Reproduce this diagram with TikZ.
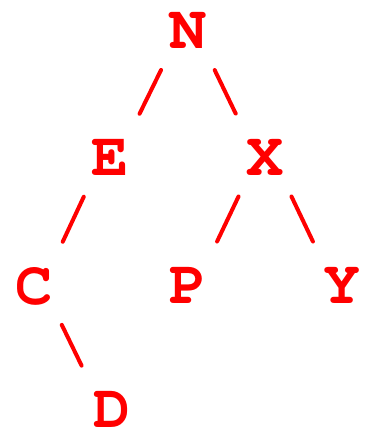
\documentclass[tikz,border=0pt]{standalone}
\usepackage[T1]{fontenc}
\usetikzlibrary{positioning}
\definecolor{cTree}{HTML}{FF0000}
\tikzset{
  key/.style={text=cTree, inner sep=0pt, anchor=base,
    font=\fontfamily{pcr}\bfseries\fontsize{62}{62}\selectfont},
  edge/.style={draw=cTree, line width=4pt, line cap=round,
    shorten <=43pt, shorten >=49pt},
}

\begin{document}
\begin{tikzpicture}[x=1pt, y=-1pt]
  \useasboundingbox (0,0) rectangle (367,432);

  % ----------------------------------------------------------------
  % Keys, one row per level
  % ----------------------------------------------------------------
  \node[key] (n) at (188,48) {N};

  \node[key] (e) at (110,175) {E};
  \node[key] (x) at (265,175) {X};

  \node[key] (c) at (34,304) {C};
  \node[key] (p) at (188,303) {P};
  \node[key] (y) at (342,303) {Y};

  \node[key] (d) at (112,427) {D};

  % ----------------------------------------------------------------
  % Edges
  % ----------------------------------------------------------------
  \draw[edge] ([xshift=-8pt]n.center) -- ([xshift=8pt]e.center);
  \draw[edge] ([xshift=8pt]n.center) -- ([xshift=-8pt]x.center);
  \draw[edge] ([xshift=-8pt]e.center) -- ([xshift=8pt]c.center);
  \draw[edge] ([xshift=-8pt]x.center) -- ([xshift=8pt]p.center);
  \draw[edge] ([xshift=8pt]x.center) -- ([xshift=-8pt]y.center);
  \draw[edge] ([xshift=9pt]c.center) -- ([xshift=-9pt]d.center);

\end{tikzpicture}
\end{document}
